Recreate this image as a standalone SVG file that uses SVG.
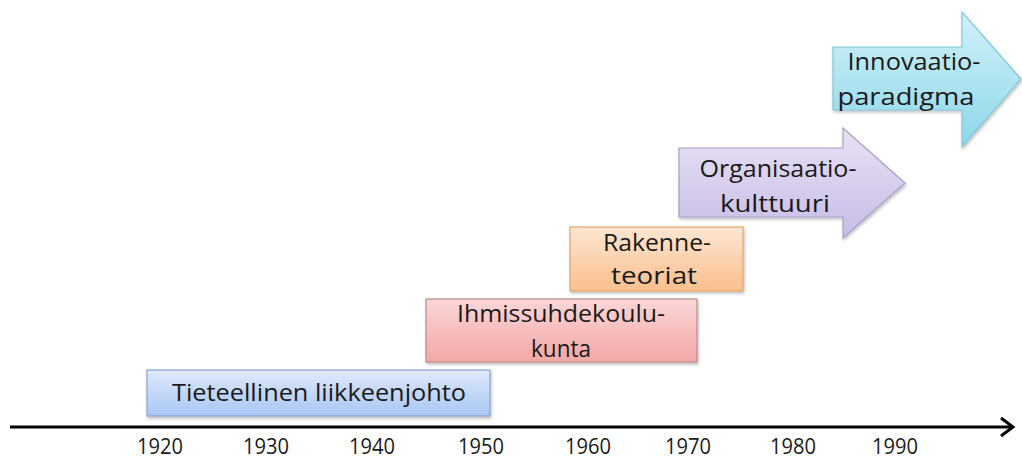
<svg xmlns="http://www.w3.org/2000/svg" width="1022" height="458" viewBox="0 0 1022 458">
<style>
.t{font-family:"Open Sans","Liberation Sans",sans-serif;font-size:24px;fill:#1a1a1a;text-anchor:middle}
.y{font-family:"Open Sans","Liberation Sans",sans-serif;font-size:21px;fill:#1a1a1a;text-anchor:middle}
</style>
<defs>
<linearGradient id="gb" x1="0" y1="0" x2="0" y2="1"><stop offset="0" stop-color="#dfe9fb"/><stop offset="1" stop-color="#a8c6f4"/></linearGradient>
<linearGradient id="gp" x1="0" y1="0" x2="0" y2="1"><stop offset="0" stop-color="#fbd6d6"/><stop offset="1" stop-color="#f4a7a7"/></linearGradient>
<linearGradient id="go" x1="0" y1="0" x2="0" y2="1"><stop offset="0" stop-color="#fde6d2"/><stop offset="1" stop-color="#fbbf8e"/></linearGradient>
<linearGradient id="gv" x1="0" y1="0" x2="0" y2="1"><stop offset="0" stop-color="#e8e2f4"/><stop offset="1" stop-color="#c8bce6"/></linearGradient>
<linearGradient id="gc" x1="0" y1="0" x2="0" y2="1"><stop offset="0" stop-color="#d2f1f9"/><stop offset="1" stop-color="#8dd7ea"/></linearGradient>
<filter id="sh" x="-5%" y="-5%" width="115%" height="125%"><feDropShadow dx="1" dy="2" stdDeviation="1.5" flood-color="#000" flood-opacity="0.25"/></filter>
</defs>
<g id="axis">
<line x1="10" y1="427" x2="1012" y2="427" stroke="#000" stroke-width="3"/>
<polyline points="1001,418 1013,427 1001,436" fill="none" stroke="#000" stroke-width="3"/>
<text class="y" x="160" y="454" textLength="46" lengthAdjust="spacingAndGlyphs">1920</text>
<text class="y" x="266" y="454" textLength="46" lengthAdjust="spacingAndGlyphs">1930</text>
<text class="y" x="372" y="454" textLength="46" lengthAdjust="spacingAndGlyphs">1940</text>
<text class="y" x="481" y="454" textLength="46" lengthAdjust="spacingAndGlyphs">1950</text>
<text class="y" x="588" y="454" textLength="46" lengthAdjust="spacingAndGlyphs">1960</text>
<text class="y" x="688" y="454" textLength="46" lengthAdjust="spacingAndGlyphs">1970</text>
<text class="y" x="793" y="454" textLength="46" lengthAdjust="spacingAndGlyphs">1980</text>
<text class="y" x="895" y="454" textLength="46" lengthAdjust="spacingAndGlyphs">1990</text>
</g>
<g id="tieteellinen">
<rect x="147" y="370" width="343" height="46" fill="url(#gb)" stroke="#8aa3cc" stroke-width="1.2" filter="url(#sh)"/>
<text class="t" x="319" y="401" textLength="294" lengthAdjust="spacingAndGlyphs">Tieteellinen liikkeenjohto</text>
</g>
<g id="ihmissuhde">
<rect x="426" y="299" width="271" height="63" fill="url(#gp)" stroke="#bb8a8a" stroke-width="1.2" filter="url(#sh)"/>
<text class="t" x="561" y="322" textLength="208" lengthAdjust="spacingAndGlyphs">Ihmissuhdekoulu-</text>
<text class="t" x="561" y="357" textLength="60" lengthAdjust="spacingAndGlyphs">kunta</text>
</g>
<g id="rakenne">
<rect x="570" y="227" width="173" height="64" fill="url(#go)" stroke="#e0a56e" stroke-width="1.2" filter="url(#sh)"/>
<text class="t" x="657" y="251" textLength="108" lengthAdjust="spacingAndGlyphs">Rakenne-</text>
<text class="t" x="654" y="284" textLength="86" lengthAdjust="spacingAndGlyphs">teoriat</text>
</g>
<g id="organisaatio">
<path d="M679,148 L843,148 L843,128 L905,183 L843,238 L843,217 L679,217 Z" fill="url(#gv)" stroke="#a99dc8" stroke-width="1.2" filter="url(#sh)"/>
<text class="t" x="778" y="177" textLength="157" lengthAdjust="spacingAndGlyphs">Organisaatio-</text>
<text class="t" x="775" y="212" textLength="110" lengthAdjust="spacingAndGlyphs">kulttuuri</text>
</g>
<g id="innovaatio">
<path d="M833,47 L962,47 L962,12 L1021,79 L962,147 L962,110 L833,110 Z" fill="url(#gc)" stroke="#82c6d8" stroke-width="1.2" filter="url(#sh)"/>
<text class="t" x="914" y="70" textLength="133" lengthAdjust="spacingAndGlyphs">Innovaatio-</text>
<text class="t" x="906" y="105" textLength="137" lengthAdjust="spacingAndGlyphs">paradigma</text>
</g>
</svg>
